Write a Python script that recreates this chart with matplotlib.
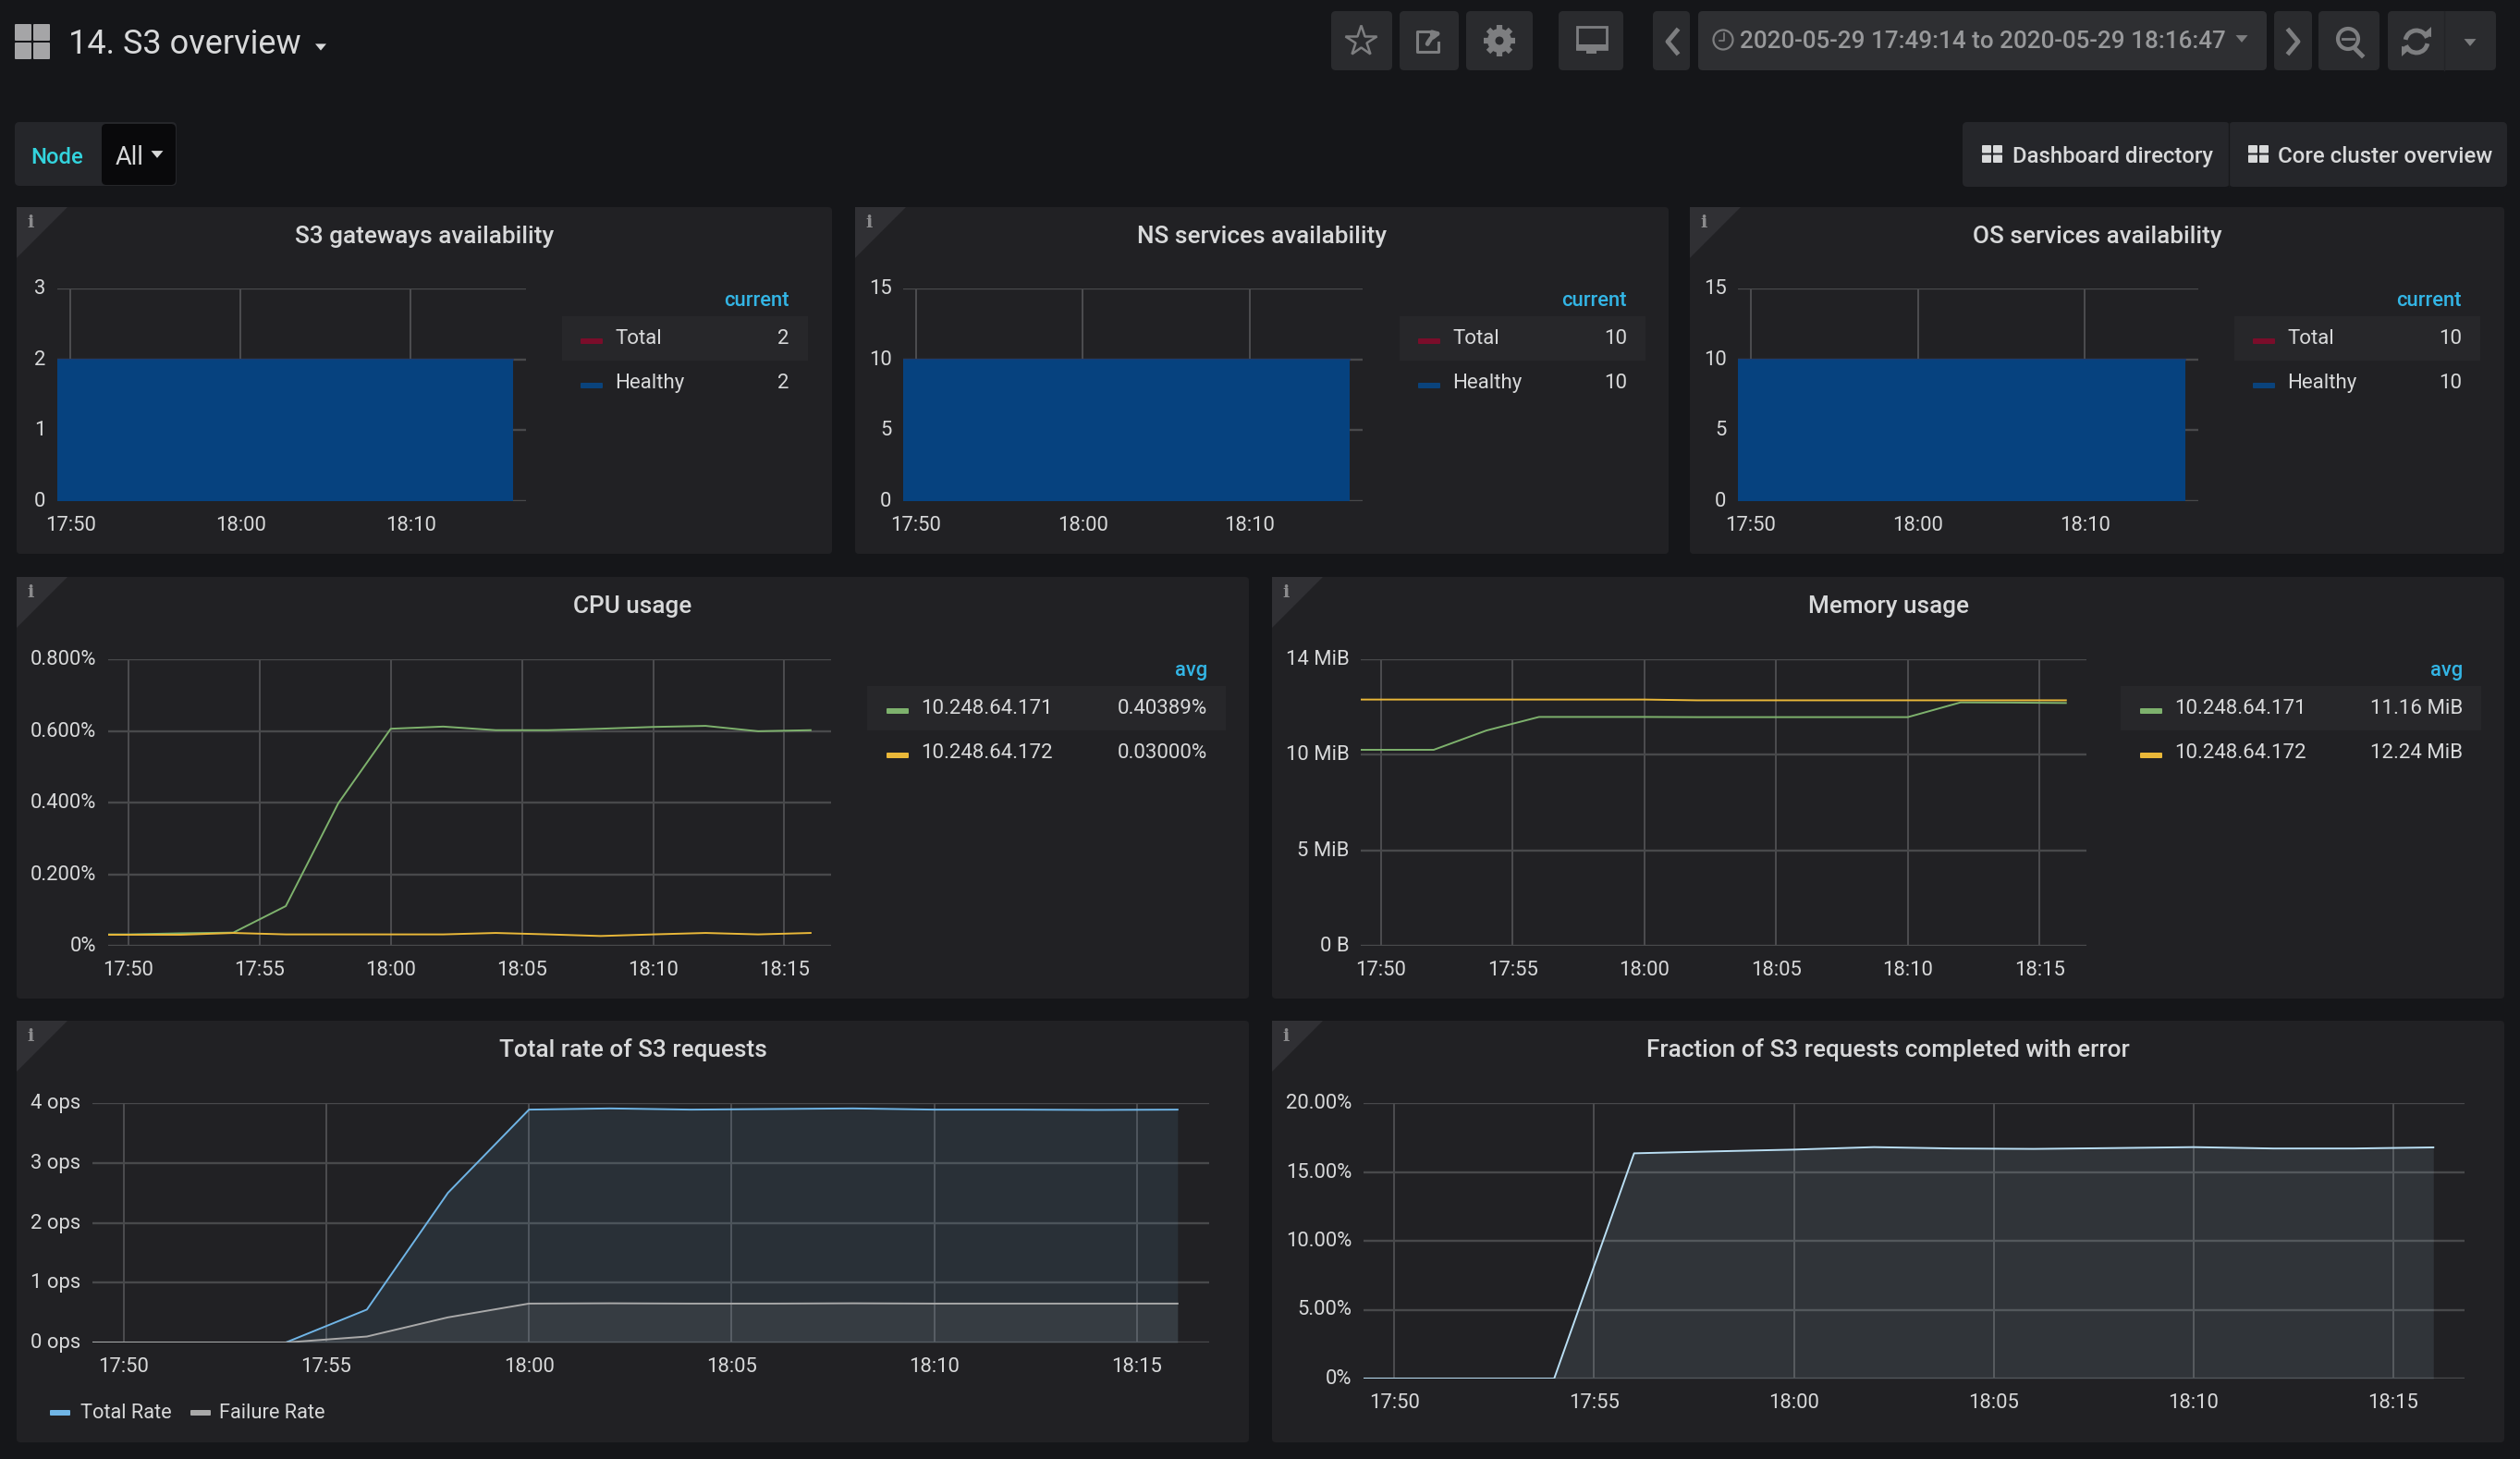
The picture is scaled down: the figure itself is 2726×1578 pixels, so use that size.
import math
import matplotlib
matplotlib.use("Agg")
import matplotlib.pyplot as plt
from matplotlib.patches import FancyBboxPatch, Polygon, Rectangle, Circle, Arc
from matplotlib.transforms import ScaledTranslation

plt.rcParams['font.family'] = ['Roboto', 'DejaVu Sans']

W, H = 2726, 1578

# minutes after 17:50, first sample is the left edge of the time range
t_start = -0.77
t_end = 26.78
minutes = [t_start, 0, 2, 4, 6, 8, 10, 12, 14, 16, 18, 20, 22, 24, 26]
avail_minutes = [t_start, 26]

ticks_5min = [0, 5, 10, 15, 20, 25]
labels_5min = ['17:50', '17:55', '18:00', '18:05', '18:10', '18:15']
ticks_10min = [0, 10, 20]
labels_10min = ['17:50', '18:00', '18:10']

s3_total = [2, 2]
s3_healthy = [2, 2]
ns_total = [10, 10]
ns_healthy = [10, 10]
os_total = [10, 10]
os_healthy = [10, 10]

cpu_171 = [0.032, 0.032, 0.035, 0.037, 0.111, 0.398, 0.606, 0.612, 0.602, 0.602, 0.606, 0.611, 0.614, 0.599, 0.602]
cpu_172 = [0.031, 0.031, 0.031, 0.036, 0.032, 0.032, 0.032, 0.032, 0.036, 0.032, 0.0275, 0.032, 0.036, 0.032, 0.036]

# memory in units of 1e6 bytes, ticks are round decimal values shown in MiB
mem_171 = [10.26, 10.26, 10.26, 11.27, 11.98, 11.98, 11.98, 11.97, 11.97, 11.97, 11.97, 11.97, 12.74, 12.73, 12.71]
mem_172 = [12.89, 12.89, 12.89, 12.89, 12.89, 12.89, 12.89, 12.85, 12.85, 12.85, 12.85, 12.85, 12.85, 12.85, 12.85]

total_rate = [0, 0, 0, 0, 0.55, 2.5, 3.89, 3.91, 3.89, 3.90, 3.91, 3.89, 3.89, 3.885, 3.89]
failure_rate = [0, 0, 0, 0, 0.10, 0.42, 0.65, 0.655, 0.65, 0.65, 0.655, 0.65, 0.65, 0.65, 0.65]
error_pct = [0, 0, 0, 0, 16.35, 16.49, 16.62, 16.8, 16.7, 16.67, 16.73, 16.8, 16.7, 16.7, 16.78]

BG = '#151619'
PANEL = '#212124'
TEXT = '#d8d9da'
GRID_H = '#48494b'
GRID_V = '#58595b'
GREEN = '#7eb26d'
YELLOW = '#eab839'
BLUE = '#70b5e6'
GREY = '#a9a9a9'
PALE = '#badff4'
NAVY = '#0a437c'
MAROON = '#7a0d2a'
CYAN = '#33b5e5'
ICON = '#7d7e80'
BUTTON = '#2a2b2e'


def px_axes(fig, left, right, top, bottom):
    ax = fig.add_axes([left / W, 1 - bottom / H, (right - left) / W, (bottom - top) / H])
    ax.patch.set_alpha(0)
    for s in ax.spines.values():
        s.set_visible(False)
    return ax


def style_axes(ax, ylim, yticks, ylabels, xticks, xlabels):
    ax.set_xlim(t_start, t_end)
    ax.set_ylim(*ylim)
    ax.set_xticks(xticks)
    ax.set_xticklabels(xlabels)
    ax.set_yticks(yticks)
    ax.set_yticklabels(ylabels)
    ax.tick_params(axis='both', length=0, labelsize=15.8, labelcolor=TEXT)
    ax.tick_params(axis='x', pad=11.5)
    ax.tick_params(axis='y', pad=9)
    ax.grid(True, axis='y', color=GRID_H, lw=1.7, zorder=1)
    ax.grid(True, axis='x', color=GRID_V, lw=1.1, zorder=1)
    ax.set_axisbelow(True)
    # labels sit a little above their grid line
    up = ScaledTranslation(0, 0.02, ax.figure.dpi_scale_trans)
    for lab in ax.get_yticklabels():
        lab.set_transform(lab.get_transform() + up)


def rbox(bg, x0, y0, x1, y1, color, r=5, zorder=1):
    bg.add_patch(FancyBboxPatch((x0 + r, y0 + r), x1 - x0 - 2 * r, y1 - y0 - 2 * r,
                                boxstyle='round,pad=%d,rounding_size=%d' % (r, r),
                                fc=color, ec='none', zorder=zorder))


def panel(bg, x0, y0, x1, y1, title):
    rbox(bg, x0, y0, x1, y1, PANEL, r=4)
    bg.add_patch(Polygon([(x0, y0), (x0 + 55, y0), (x0, y0 + 55)], fc='#303034', ec='none', zorder=2))
    bg.text(x0 + 15, y0 + 17, 'i', family='DejaVu Serif', weight='bold', fontsize=14,
            color='#8b8b8d', ha='center', va='center', zorder=3)
    bg.text((x0 + x1) / 2, y0 + 32, title, fontsize=18.8, weight='medium', color=TEXT,
            ha='center', va='center', zorder=3)


def side_legend(bg, box_x0, box_x1, box_y0, swatch_x, header, names, values, colors, val_right):
    bg.add_patch(Rectangle((box_x0, box_y0), box_x1 - box_x0, 48, fc='#27272a', ec='none', zorder=2))
    bg.text(val_right, box_y0 - 17, header, fontsize=15.8, weight='medium', color=CYAN,
            ha='right', va='center', zorder=3)
    for i, (name, val, col) in enumerate(zip(names, values, colors)):
        y = box_y0 + 24 + i * 48
        rbox(bg, swatch_x, y, swatch_x + 24, y + 6, col, r=1, zorder=3)
        bg.text(swatch_x + 37, y, name, fontsize=16, color=TEXT, ha='left', va='center', zorder=3)
        bg.text(val_right, y, val, fontsize=16, color=TEXT, ha='right', va='center', zorder=3)


def grid_icon(bg, x0, y0, w, h, color, gap=2):
    cw = (w - gap) / 2
    ch = (h - gap) / 2
    for cx in (x0, x0 + cw + gap):
        for cy in (y0, y0 + ch + gap):
            rbox(bg, cx, cy, cx + cw, cy + ch, color, r=1, zorder=3)


def caret(bg, cx, cy, size, color):
    bg.add_patch(Polygon([(cx - size, cy - size * 0.6), (cx + size, cy - size * 0.6), (cx, cy + size * 0.6)],
                         fc=color, ec='none', zorder=3))


def gear(bg, cx, cy):
    for k in range(8):
        a = k * math.pi / 4
        bg.plot([cx, cx + 17 * math.cos(a)], [cy, cy + 17 * math.sin(a)], color=ICON, lw=4.5,
                solid_capstyle='butt', zorder=3)
    bg.add_patch(Circle((cx, cy), 13, fc=ICON, ec='none', zorder=3))
    bg.add_patch(Circle((cx, cy), 4.5, fc=BUTTON, ec='none', zorder=4))


def draw_header(bg):
    grid_icon(bg, 16, 26, 38, 38, '#a5a5a7')
    bg.text(74, 48, '14. S3 overview', fontsize=26, color=TEXT, ha='left', va='center', zorder=3)
    caret(bg, 347, 51, 6, TEXT)

    # top toolbar buttons
    for x0, x1 in [(1440, 1506), (1514, 1578), (1586, 1658), (1686, 1756), (1788, 1828),
                   (2460, 2501), (2508, 2574), (2583, 2700)]:
        rbox(bg, x0, 12, x1, 76, BUTTON)
    rbox(bg, 1837, 12, 2452, 76, '#2e2f32')

    bg.plot([1472], [44], marker='*', ms=25, mfc='none', mec=ICON, mew=1.8, zorder=3)
    # share
    bg.plot([1556, 1556, 1533, 1533, 1548], [46, 56, 56, 34, 34], color=ICON, lw=2.2, zorder=3)
    bg.annotate('', xy=(1563, 35), xytext=(1543, 50), zorder=4,
                arrowprops=dict(arrowstyle='-|>', color=ICON, lw=3.5, connectionstyle='arc3,rad=-0.3'))
    gear(bg, 1622, 44)
    # monitor
    bg.add_patch(Rectangle((1706, 29), 32, 24, fc='none', ec=ICON, lw=2, zorder=3))
    bg.add_patch(Rectangle((1705, 48), 34, 6, fc=ICON, ec='none', zorder=3))
    bg.add_patch(Rectangle((1716, 54), 11, 4, fc=ICON, ec='none', zorder=3))
    # chevrons
    bg.plot([1814, 1804, 1814], [33, 45, 57], color=ICON, lw=3.5, zorder=3)
    bg.plot([2476, 2486, 2476], [33, 45, 57], color=ICON, lw=3.5, zorder=3)
    # clock and time range
    bg.add_patch(Circle((1864, 43), 10.5, fc='none', ec=ICON, lw=1.6, zorder=3))
    bg.plot([1865, 1865, 1860], [36, 44, 44], color=ICON, lw=1.2, zorder=3)
    bg.text(1882, 45, '2020-05-29 17:49:14 to 2020-05-29 18:16:47', fontsize=18.7, weight='medium',
            color='#98999b', ha='left', va='center', zorder=3)
    caret(bg, 2425, 42, 6.5, ICON)
    # zoom out
    bg.add_patch(Circle((2540, 42), 11, fc='none', ec=ICON, lw=3, zorder=3))
    bg.plot([2534, 2546], [42, 42], color=ICON, lw=2, zorder=3)
    bg.plot([2547, 2555], [52, 60], color=ICON, lw=3.5, zorder=3)
    # refresh
    bg.add_patch(Arc((2614, 45), 24, 24, theta1=190, theta2=340, ec=ICON, lw=3.5, zorder=3))
    bg.add_patch(Arc((2614, 45), 24, 24, theta1=10, theta2=160, ec=ICON, lw=3.5, zorder=3))
    bg.add_patch(Polygon([(2620, 38), (2630, 29), (2630, 40)], fc=ICON, ec='none', zorder=3))
    bg.add_patch(Polygon([(2608, 52), (2598, 61), (2598, 50)], fc=ICON, ec='none', zorder=3))
    bg.plot([2644, 2644], [12, 76], color='#232427', lw=1, zorder=3)
    caret(bg, 2672, 46, 6.5, ICON)

    # template variable
    rbox(bg, 16, 132, 191, 201, '#25262a')
    rbox(bg, 110, 134, 190, 200, '#09090b')
    bg.text(62, 170, 'Node', fontsize=17.2, weight='medium', color='#33d4de', ha='center', va='center', zorder=3)
    bg.text(125, 170, 'All', fontsize=19.5, color=TEXT, ha='left', va='center', zorder=3)
    caret(bg, 170, 167, 6.5, TEXT)

    # dashboard links
    rbox(bg, 2123, 132, 2412, 202, '#25262a')
    rbox(bg, 2411, 132, 2712, 202, '#25262a')
    bg.plot([2411, 2411], [132, 202], color='#18191b', lw=1, zorder=3)
    grid_icon(bg, 2144, 157, 22, 19, TEXT, gap=2)
    grid_icon(bg, 2432, 157, 22, 19, TEXT, gap=2)
    bg.text(2177, 169, 'Dashboard directory', fontsize=17.2, weight='medium', color=TEXT, ha='left', va='center', zorder=3)
    bg.text(2464, 169, 'Core cluster overview', fontsize=17.3, weight='medium', color=TEXT, ha='left', va='center', zorder=3)


def avail_chart(fig, bg, panel_x0, panel_x1, left, right, box, title, ymax, yticks, total, healthy):
    panel(bg, panel_x0, 224, panel_x1, 599, title)
    ax = px_axes(fig, left, right, 312, 542)
    ax.plot(avail_minutes, total, color=MAROON, lw=1.2, zorder=2)
    ax.fill_between(avail_minutes, healthy, color='#06427f', lw=0, zorder=3)
    ax.plot(avail_minutes, healthy, color=NAVY, lw=1.2, zorder=4)
    style_axes(ax, (0, ymax), yticks, [str(v) for v in yticks], ticks_10min, labels_10min)
    side_legend(bg, box, box + 266, 342, box + 20, 'current', ['Total', 'Healthy'],
                [str(total[-1]), str(healthy[-1])], [MAROON, NAVY], box + 246)


def main():
    fig = plt.figure(figsize=(W / 100, H / 100), dpi=100, facecolor=BG)
    bg = fig.add_axes([0, 0, 1, 1])
    bg.set_xlim(0, W)
    bg.set_ylim(H, 0)
    bg.axis('off')

    draw_header(bg)

    avail_chart(fig, bg, 18, 900, 62, 569, 608, 'S3 gateways availability', 3, [0, 1, 2, 3], s3_total, s3_healthy)
    avail_chart(fig, bg, 925, 1805, 977, 1474, 1514, 'NS services availability', 15, [0, 5, 10, 15], ns_total, ns_healthy)
    avail_chart(fig, bg, 1828, 2709, 1880, 2378, 2417, 'OS services availability', 15, [0, 5, 10, 15], os_total, os_healthy)

    # CPU usage
    panel(bg, 18, 624, 1351, 1080, 'CPU usage')
    ax = px_axes(fig, 117, 899, 713, 1023)
    ax.plot(minutes, cpu_171, color=GREEN, lw=1.4, zorder=3)
    ax.plot(minutes, cpu_172, color=YELLOW, lw=1.4, zorder=4)
    style_axes(ax, (0, 0.8), [0, 0.2, 0.4, 0.6, 0.8], ['0%', '0.200%', '0.400%', '0.600%', '0.800%'],
               ticks_5min, labels_5min)
    side_legend(bg, 938, 1326, 742, 959, 'avg', ['10.248.64.171', '10.248.64.172'],
                ['0.40389%', '0.03000%'], [GREEN, YELLOW], 1306)

    # Memory usage
    panel(bg, 1376, 624, 2709, 1080, 'Memory usage')
    ax = px_axes(fig, 1472, 2257, 713, 1023)
    ax.plot(minutes, mem_171, color=GREEN, lw=1.4, zorder=3)
    ax.plot(minutes, mem_172, color=YELLOW, lw=1.4, zorder=4)
    style_axes(ax, (0, 15), [0, 5, 10, 15], ['0 B', '5 MiB', '10 MiB', '14 MiB'], ticks_5min, labels_5min)
    side_legend(bg, 2294, 2684, 742, 2315, 'avg', ['10.248.64.171', '10.248.64.172'],
                ['11.16 MiB', '12.24 MiB'], [GREEN, YELLOW], 2664)

    # Total rate of S3 requests
    panel(bg, 18, 1104, 1351, 1560, 'Total rate of S3 requests')
    ax = px_axes(fig, 100, 1308, 1193, 1452)
    ax.fill_between(minutes, total_rate, color=BLUE, alpha=0.1, lw=0, zorder=2)
    ax.fill_between(minutes, failure_rate, color=GREY, alpha=0.1, lw=0, zorder=2)
    ax.plot(minutes, total_rate, color=BLUE, lw=1.4, zorder=3)
    ax.plot(minutes, failure_rate, color=GREY, lw=1.4, zorder=4)
    style_axes(ax, (0, 4), [0, 1, 2, 3, 4], ['0 ops', '1 ops', '2 ops', '3 ops', '4 ops'], ticks_5min, labels_5min)
    for sx, tx, name, col in [(54, 87, 'Total Rate', BLUE), (206, 237, 'Failure Rate', GREY)]:
        rbox(bg, sx, 1525, sx + 22, 1531, col, r=1, zorder=3)
        bg.text(tx, 1528, name, fontsize=15.7, color=TEXT, ha='left', va='center', zorder=3)

    # Fraction of S3 requests completed with error
    panel(bg, 1376, 1104, 2709, 1560, 'Fraction of S3 requests completed with error')
    ax = px_axes(fig, 1475, 2666, 1193, 1491)
    ax.fill_between(minutes, error_pct, color=PALE, alpha=0.1, lw=0, zorder=2)
    ax.plot(minutes, error_pct, color=PALE, lw=1.4, zorder=3)
    style_axes(ax, (0, 20), [0, 5, 10, 15, 20], ['0%', '5.00%', '10.00%', '15.00%', '20.00%'], ticks_5min, labels_5min)

    fig.savefig('out.png', dpi=100, facecolor=BG)


if __name__ == "__main__":
    main()
